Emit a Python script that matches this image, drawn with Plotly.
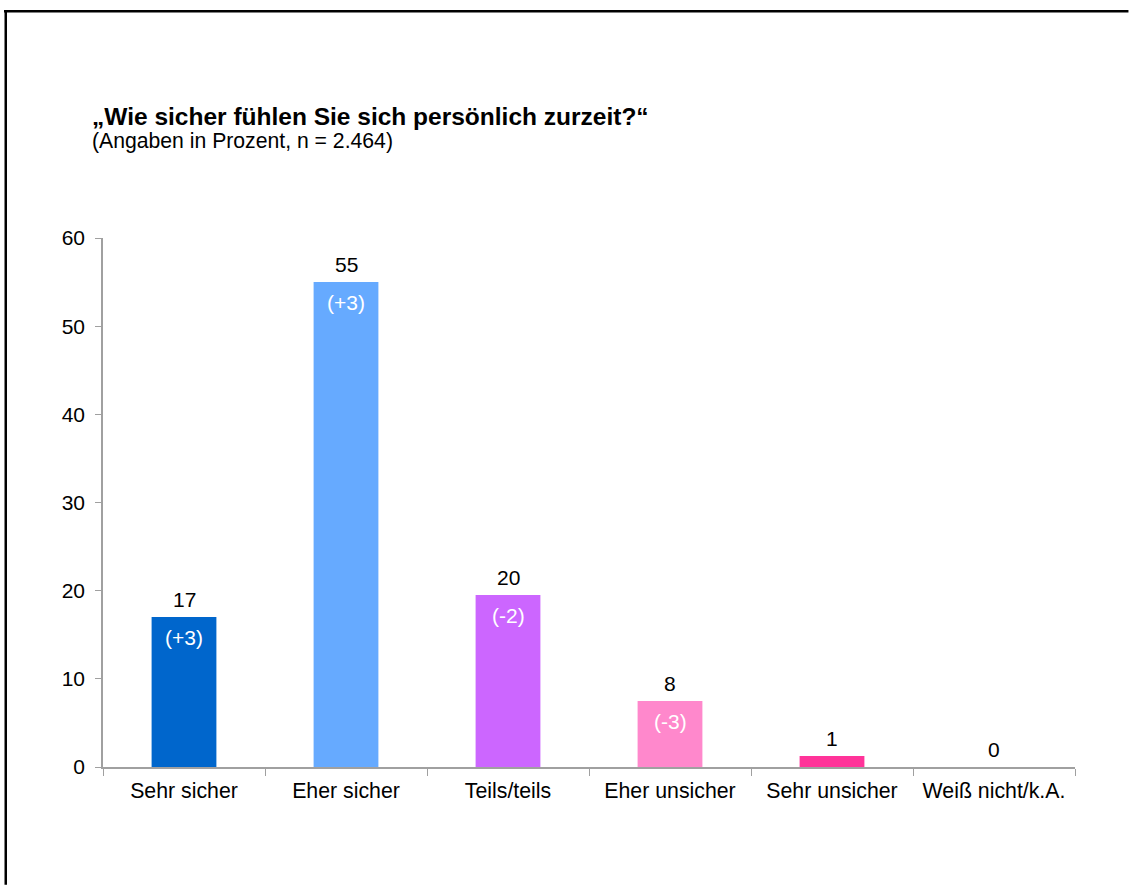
import plotly.graph_objects as go

categories = ["Sehr sicher", "Eher sicher", "Teils/teils", "Eher unsicher", "Sehr unsicher", "Weiß nicht/k.A."]
values = [17, 55, 19.5, 7.5, 1.25, 0]
value_labels = ["17", "55", "20", "8", "1", "0"]
change_labels = ["(+3)", "(+3)", "(-2)", "(-3)", "", ""]
colors = ["#0066CC", "#66AAFF", "#CC66FF", "#FF88CC", "#FF3399", "#FFFFFF"]
y_ticks = [0, 10, 20, 30, 40, 50, 60]

title_text = "<b>„Wie sicher fühlen Sie sich persönlich zurzeit?“</b>"
subtitle_text = "(Angaben in Prozent, n = 2.464)"

FONT = "Liberation Sans, Arial, sans-serif"

fig = go.Figure()
fig.add_trace(go.Bar(
    x=categories, y=values,
    marker=dict(color=colors, line=dict(width=0)),
    width=0.4,
    hoverinfo="skip",
))

annotations = []
for c, v, lab in zip(categories, values, value_labels):
    annotations.append(dict(x=c, y=v, xref="x", yref="y", text=lab, showarrow=False,
                            yanchor="bottom", yshift=4,
                            font=dict(family=FONT, size=21, color="#000000")))
for c, v, lab in zip(categories, values, change_labels):
    if lab:
        annotations.append(dict(x=c, y=v, xref="x", yref="y", text=lab, showarrow=False,
                                yanchor="top", yshift=-7,
                                font=dict(family=FONT, size=21, color="#FFFFFF")))

annotations.append(dict(x=-0.0135, y=1.2306, xref="paper", yref="paper", text=title_text,
                        showarrow=False, xanchor="left", yanchor="middle",
                        font=dict(family=FONT, size=24.5, color="#000000")))
annotations.append(dict(x=-0.0135, y=1.1834, xref="paper", yref="paper", text=subtitle_text,
                        showarrow=False, xanchor="left", yanchor="middle",
                        font=dict(family=FONT, size=21.2, color="#000000")))

# open frame (top and left edges) drawn as thin filled rectangles, kept inside the page
shapes = [
    dict(type="rect", xref="paper", yref="paper", x0=-0.10185, x1=1.0550, y0=1.4263, y1=1.4310,
         fillcolor="#000000", line=dict(width=0)),
    dict(type="rect", xref="paper", yref="paper", x0=-0.10134, x1=-0.09877, y0=-0.2228, y1=1.4310,
         fillcolor="#000000", line=dict(width=0)),
]

fig.update_layout(
    width=1129, height=885,
    margin=dict(l=103, r=54, t=238, b=118, pad=0),
    paper_bgcolor="#FFFFFF", plot_bgcolor="#FFFFFF",
    showlegend=False,
    font=dict(family=FONT, size=21, color="#000000"),
    annotations=annotations,
    shapes=shapes,
    bargap=0.6,
)
fig.update_xaxes(
    type="category", tickson="boundaries",
    showline=True, linecolor="#A0A0A0", linewidth=1.5,
    ticks="outside", ticklen=7, tickcolor="#A0A0A0", tickwidth=1,
    showgrid=False, zeroline=False,
    ticklabelstandoff=4,
    tickfont=dict(family=FONT, size=21.3, color="#000000"),
)
fig.update_yaxes(
    range=[0, 60], tickvals=y_ticks,
    showline=True, linecolor="#A0A0A0", linewidth=1.5,
    ticks="outside", ticklen=6, tickcolor="#A0A0A0", tickwidth=1,
    showgrid=False, zeroline=False,
    ticklabelstandoff=6,
    tickfont=dict(family=FONT, size=21, color="#000000"),
)

fig.write_html("out.html", config={"displayModeBar": False})
